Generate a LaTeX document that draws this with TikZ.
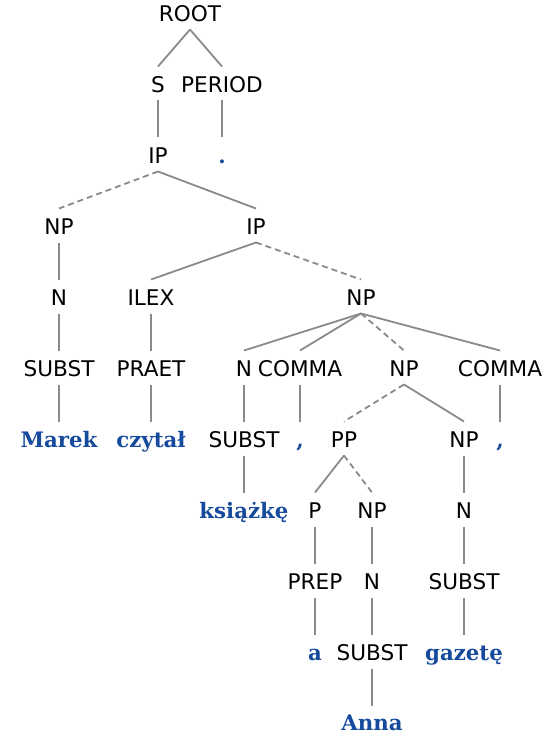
\documentclass[tikz,border=0pt]{standalone}
\usepackage{fontspec}
\setmainfont{DejaVu Sans}
\newfontfamily\wordfont{DejaVu Serif}
\usepackage{tikz}

\definecolor{wordblue}{RGB}{22,74,156}

\begin{document}
\begin{tikzpicture}[
    x=1pt,y=-1pt,
    font=\fontsize{21.6}{25}\selectfont,
    cat/.style={anchor=base,inner sep=0pt,text height=15pt,text depth=5pt},
    word/.style={cat,text=wordblue,font=\fontsize{21.3}{25}\selectfont\wordfont\bfseries},
    branch/.style={draw=black!46,line width=1.8pt},
    trace/.style={branch,dash pattern=on 6pt off 4pt}
]
    \useasboundingbox (0,0) rectangle (553,735);

    % Constituent labels, one row every 71pt.
    \node[cat] (root)    at (190,21.5)  {ROOT};
    \node[cat] (s)       at (158,92.5)  {S};
    \node[cat] (period)  at (222,92.5)  {PERIOD};
    \node[cat] (ip)      at (158,163.5) {IP};
    \node[word] (dot)    at (222,163.5) {.};
    \node[cat] (np)      at (59,234.5)  {NP};
    \node[cat] (ipb)     at (256,234.5) {IP};
    \node[cat] (n)       at (59,305.5)  {N};
    \node[cat] (ilex)    at (151,305.5) {ILEX};
    \node[cat] (npb)     at (361,305.5) {NP};
    \node[cat] (subst)   at (59,376.5)  {SUBST};
    \node[cat] (praet)   at (151,376.5) {PRAET};
    \node[cat] (nb)      at (244,376.5) {N};
    \node[cat] (comma)   at (300,376.5) {COMMA};
    \node[cat] (npc)     at (404,376.5) {NP};
    \node[cat] (commab)  at (500,376.5) {COMMA};
    \node[word] (marek)  at (59,447.5)  {Marek};
    \node[word] (czytal) at (151,447.5) {czytał};
    \node[cat] (substb)  at (244,447.5) {SUBST};
    \node[word] (ca)     at (300,447.5) {,};
    \node[cat] (pp)      at (344,447.5) {PP};
    \node[cat] (npd)     at (464,447.5) {NP};
    \node[word] (cb)     at (500,447.5) {,};
    \node[word] (ksiazke) at (244,518.5) {książkę};
    \node[cat] (p)       at (315,518.5) {P};
    \node[cat] (npe)     at (372,518.5) {NP};
    \node[cat] (nc)      at (464,518.5) {N};
    \node[cat] (prep)    at (315,589.5) {PREP};
    \node[cat] (nd)      at (372,589.5) {N};
    \node[cat] (substc)  at (464,589.5) {SUBST};
    \node[word] (a)      at (315,660.5) {a};
    \node[cat] (substd)  at (372,660.5) {SUBST};
    \node[word] (gazete) at (464,660.5) {gazetę};
    \node[word,text depth=0pt] (anna) at (372,730.5) {Anna};

    % Branches
    \foreach \p/\c in {root/s,root/period,s/ip,period/dot,ip/ipb,np/n,
        ipb/ilex,n/subst,ilex/praet,npb/nb,npb/comma,npb/commab,
        subst/marek,praet/czytal,nb/substb,comma/ca,npc/npd,commab/cb,
        substb/ksiazke,pp/p,npd/nc,p/prep,npe/nd,nc/substc,
        prep/a,nd/substd,substc/gazete}
        \draw[branch] ([yshift=-8pt]\p.base) -- ([yshift=26pt]\c.base);
    \draw[branch] ([yshift=-8pt]substd.base) -- ([yshift=25pt]anna.base);

    % Dashed branches
    \foreach \p/\c in {ip/np,ipb/npb,npb/npc,npc/pp,pp/npe}
        \draw[trace] ([yshift=-8pt]\p.base) -- ([yshift=26pt]\c.base);
\end{tikzpicture}
\end{document}
